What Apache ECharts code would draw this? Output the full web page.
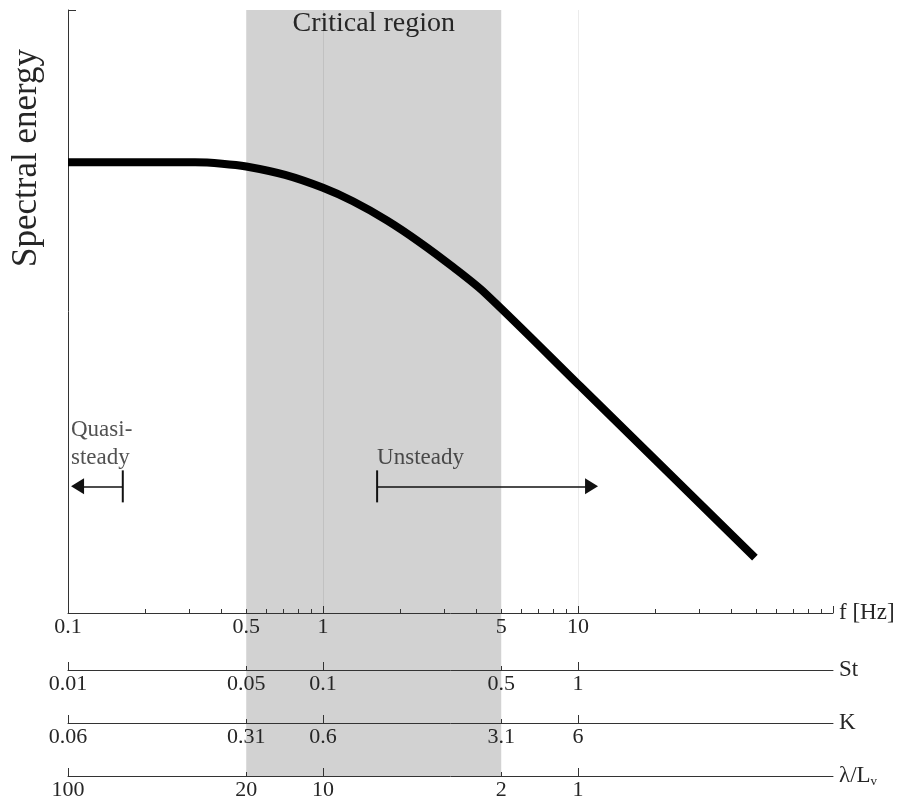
<!DOCTYPE html>
<html><head><meta charset="utf-8">
<script src="https://cdn.jsdelivr.net/npm/echarts@6/dist/echarts.min.js"></script>
<style>html,body{margin:0;padding:0;background:#fff}#c{width:898px;height:801px}</style>
</head><body><div id="c"></div>
<script>
// ---- data ----
const freqHz = [0.1, 0.21, 0.315, 0.402, 0.5, 0.71, 1.0, 1.31, 1.78, 2.40, 3.24, 4.32, 10.2, 49.4];
const energy = [74.74, 74.74, 74.74, 74.52, 74.05, 72.65, 70.51, 68.28, 65.12, 61.46, 57.35, 53.05, 37.61, 9.17];
const fRange = [0.1, 100];
const labelHz = [0.1, 0.5, 1, 5, 10];
const fLabels = ['0.1', '0.5', '1', '5', '10'];
const stLabels = ['0.01', '0.05', '0.1', '0.5', '1'];
const kLabels = ['0.06', '0.31', '0.6', '3.1', '6'];
const lambdaLabels = ['100', '20', '10', '2', '1'];
const majorTickHz = [0.1, 1, 10, 100];
const minorTickHz = [0.2, 0.3, 0.4, 0.5, 0.6, 0.7, 0.8, 0.9, 2, 3, 4, 5, 6, 7, 8, 9, 20, 30, 40, 50, 60, 70, 80, 90];
const scaleMajorHz = [0.1, 1, 10];
const scaleMinorHz = [0.5, 5];
const criticalRangeHz = [0.5, 5];
const guideLinesHz = [1, 10];
const quasiArrow = [0.164, 0.109];   // bar at, arrow tip towards
const unsteadyArrow = [1.63, 11.3];
const arrowLevel = 21;
const quasiText = [0.1, 28];
const unsteadyText = [1.63, 25.7];

// ---- chart ----
const FONT = '"Liberation Serif", "Times New Roman", serif';
const INK = '#333';
const TXT = '#262626';
function fmt(labels) {
  return function (v) {
    let best = 0, bd = 1e9;
    labelHz.forEach((h, i) => { const d = Math.abs(Math.log10(v) - Math.log10(h)); if (d < bd) { bd = d; best = i; } });
    return labels[best];
  };
}
const nameStyle = { fontSize: 23, color: TXT, fontFamily: FONT };
const labelStyle = { fontSize: 22, color: TXT, fontFamily: FONT, margin: 3 };

function scaleAxes(grid, offset, name, labels, rich) {
  return [
    {
      type: 'log', logBase: 10, gridIndex: grid, min: fRange[0], max: fRange[1], position: 'bottom', offset: offset,
      axisLine: { show: true, onZero: false, lineStyle: { color: INK, width: 1 } },
      axisTick: { show: true, inside: true, length: 8, customValues: scaleMajorHz, lineStyle: { color: INK } },
      axisLabel: Object.assign({ customValues: labelHz, formatter: fmt(labels) }, labelStyle),
      splitLine: { show: false }, minorTick: { show: false },
      name: name, nameLocation: 'end', nameGap: 6,
      nameTextStyle: Object.assign({}, nameStyle, rich ? { rich: rich } : {})
    },
    {
      type: 'log', logBase: 10, gridIndex: grid, min: fRange[0], max: fRange[1], position: 'bottom', offset: offset,
      axisLine: { show: false, onZero: false },
      axisTick: { show: true, inside: true, length: 4, customValues: scaleMinorHz, lineStyle: { color: INK } },
      axisLabel: { show: false }, splitLine: { show: false }
    }
  ];
}

const xAxes = [
  {
    type: 'log', logBase: 10, gridIndex: 0, min: fRange[0], max: fRange[1], position: 'bottom',
    axisLine: { show: true, onZero: false, lineStyle: { color: INK, width: 1 } },
    axisTick: { show: true, inside: true, length: 7, customValues: majorTickHz, lineStyle: { color: INK } },
    axisLabel: Object.assign({ customValues: labelHz, formatter: fmt(fLabels) }, labelStyle),
    splitLine: { show: false }, minorTick: { show: false },
    name: 'f [Hz]', nameLocation: 'end', nameGap: 6, nameTextStyle: nameStyle
  },
  {
    type: 'log', logBase: 10, gridIndex: 0, min: fRange[0], max: fRange[1], position: 'bottom',
    axisLine: { show: false, onZero: false },
    axisTick: { show: true, inside: true, length: 4, customValues: minorTickHz, lineStyle: { color: INK } },
    axisLabel: { show: false }, splitLine: { show: false }
  }
].concat(
  scaleAxes(1, -106, 'St', stLabels),
  scaleAxes(1, -53, 'K', kLabels),
  scaleAxes(1, 0, '{a|λ/L}{b|v}', lambdaLabels, {
    a: { fontSize: 23, color: TXT, fontFamily: FONT },
    b: { fontSize: 13, color: TXT, fontFamily: FONT, verticalAlign: 'bottom', padding: [12, 0, 0, 0] }
  })
);

const option = {
  animation: false,
  backgroundColor: '#fff',
  textStyle: { fontFamily: FONT },
  grid: [
    { left: 68, right: 65, top: 10, bottom: 188, containLabel: false },
    { left: 68, right: 65, top: 10, bottom: 24, containLabel: false }
  ],
  xAxis: xAxes,
  yAxis: [
    {
      type: 'value', gridIndex: 0, min: 0, max: 100,
      axisLine: { show: true, onZero: false, lineStyle: { color: INK, width: 1 } },
      axisTick: { show: true, inside: true, length: 8, customValues: [100], lineStyle: { color: INK } },
      axisLabel: { show: false }, splitLine: { show: false }
    },
    { type: 'value', gridIndex: 1, min: 0, max: 1, show: false }
  ],
  graphic: [{
    type: 'text', x: 27, y: 158, rotation: Math.PI / 2, silent: true,
    style: { text: 'Spectral energy', fontSize: 35, fontFamily: FONT, fill: TXT, align: 'center', verticalAlign: 'middle' }
  }],
  series: [
    {
      name: 'critical', type: 'line', xAxisIndex: 6, yAxisIndex: 1, data: [], z: 0, silent: true,
      markArea: {
        silent: true, z: 0,
        itemStyle: { color: '#d2d2d2' },
        label: { show: true, position: 'insideTop', distance: 0, fontSize: 28, color: TXT, fontFamily: FONT },
        data: [[{ xAxis: criticalRangeHz[0], name: 'Critical region' }, { xAxis: criticalRangeHz[1] }]]
      }
    },
    {
      name: 'guides', type: 'line', xAxisIndex: 0, yAxisIndex: 0, data: [], silent: true,
      markLine: {
        silent: true, symbol: 'none', animation: false, z: 1,
        label: { show: false },
        lineStyle: { color: 'rgba(0,0,0,0.08)', width: 1, type: 'solid' },
        data: guideLinesHz.map(h => ({ xAxis: h }))
      }
    },
    {
      name: 'spectrum', type: 'line', xAxisIndex: 0, yAxisIndex: 0, z: 10,
      data: freqHz.map((f, i) => [f, energy[i]]),
      symbol: 'none', smooth: 0.3,
      lineStyle: { color: '#000', width: 8, join: 'round' }
    },
    {
      name: 'arrows', type: 'line', xAxisIndex: 0, yAxisIndex: 0, data: [], silent: true,
      markLine: {
        silent: true, animation: false, z: 6,
        label: { show: false },
        lineStyle: { color: '#111', width: 1.5, type: 'solid' },
        itemStyle: { color: '#111' },
        data: [
          [{ coord: [quasiArrow[0], arrowLevel], symbol: 'rect', symbolSize: [32, 2] },
           { coord: [quasiArrow[1], arrowLevel], symbol: 'triangle', symbolSize: [16, 13] }],
          [{ coord: [unsteadyArrow[0], arrowLevel], symbol: 'rect', symbolSize: [32, 2] },
           { coord: [unsteadyArrow[1], arrowLevel], symbol: 'triangle', symbolSize: [16, 13] }]
        ]
      }
    },
    {
      name: 'notes', type: 'scatter', xAxisIndex: 0, yAxisIndex: 0, symbolSize: 0, silent: true, z: 7,
      label: { show: true, position: 'right', distance: 3, fontSize: 23, lineHeight: 28, color: TXT, fontFamily: FONT, align: 'left' },
      data: [
        { value: quasiText, label: { formatter: 'Quasi-\nsteady' } },
        { value: unsteadyText, label: { formatter: 'Unsteady', distance: 0 } }
      ]
    }
  ]
};
const chart = echarts.init(document.getElementById('c'), null, { renderer: 'canvas' });
chart.setOption(option);
</script>
</body></html>
